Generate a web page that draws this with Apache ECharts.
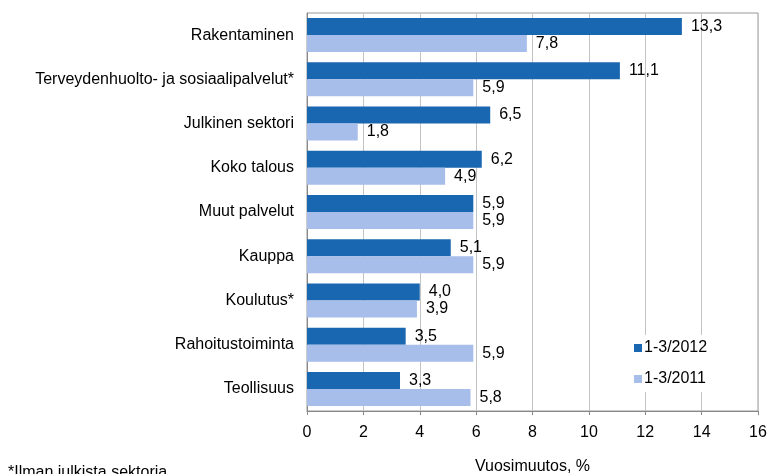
<!DOCTYPE html>
<html>
<head>
<meta charset="utf-8">
<script src="https://cdn.jsdelivr.net/npm/echarts@6/dist/echarts.min.js"></script>
<style>
  html, body { margin: 0; padding: 0; background: #fff; }
  #chart { width: 768px; height: 474px; }
</style>
</head>
<body>
<div id="chart"></div>
<script>
const categories = [
  'Rakentaminen',
  'Terveydenhuolto- ja sosiaalipalvelut*',
  'Julkinen sektori',
  'Koko talous',
  'Muut palvelut',
  'Kauppa',
  'Koulutus*',
  'Rahoitustoiminta',
  'Teollisuus'
];
const values2012 = [13.3, 11.1, 6.5, 6.2, 5.9, 5.1, 4.0, 3.5, 3.3];
const values2011 = [7.8, 5.9, 1.8, 4.9, 5.9, 5.9, 3.9, 5.9, 5.8];
const seriesNames = ['1-3/2012', '1-3/2011'];

const chart = echarts.init(document.getElementById('chart'));
const font = 'Liberation Sans, Arial, sans-serif';
const fs = 16;

const labelOpt = {
  show: true,
  position: 'right',
  distance: 9,
  color: '#000',
  fontFamily: font,
  fontSize: fs,
  formatter: p => p.value.toFixed(1).replace('.', ',')
};

chart.setOption({
  animation: false,
  grid: {
    left: 307, right: 10, top: 13, bottom: 63,
    outerBoundsMode: 'none',
    containLabel: false,
    show: true, borderColor: '#999', borderWidth: 1
  },
  legend: {
    orient: 'vertical',
    left: 630,
    top: 335,
    padding: [5, 8, 5, 4],
    backgroundColor: '#fff',
    itemWidth: 8,
    itemHeight: 8,
    itemGap: 15,
    icon: 'rect',
    textStyle: { fontFamily: font, fontSize: fs, color: '#000', padding: [0, 0, 0, -3] },
    data: seriesNames
  },
  xAxis: {
    type: 'value',
    min: 0,
    max: 16,
    interval: 2,
    name: 'Vuosimuutos, %',
    nameLocation: 'middle',
    nameGap: 48,
    nameTextStyle: { fontFamily: font, fontSize: fs, color: '#000' },
    axisLine: { show: true, lineStyle: { color: '#888' } },
    axisTick: { show: true, length: 4, lineStyle: { color: '#888' } },
    axisLabel: { fontFamily: font, fontSize: fs, color: '#000', margin: 14 },
    splitLine: { show: true, lineStyle: { color: '#c4c4c4' } }
  },
  yAxis: {
    type: 'category',
    inverse: true,
    data: categories,
    axisLine: { show: true, lineStyle: { color: '#888' } },
    axisTick: { show: false },
    axisLabel: { fontFamily: font, fontSize: fs, color: '#000', margin: 13 }
  },
  series: [
    {
      name: seriesNames[0],
      type: 'bar',
      data: values2012,
      barWidth: 17,
      barGap: '0%',
      itemStyle: { color: '#1a67b1' },
      label: labelOpt
    },
    {
      name: seriesNames[1],
      type: 'bar',
      data: values2011,
      barWidth: 17,
      barGap: '0%',
      itemStyle: { color: '#a7bdea' },
      label: labelOpt
    }
  ],
  graphic: [
    {
      type: 'text',
      left: 8,
      top: 465,
      style: { text: '*Ilman julkista sektoria', fontFamily: font, fontSize: fs, fill: '#000' }
    }
  ]
});
</script>
</body>
</html>
